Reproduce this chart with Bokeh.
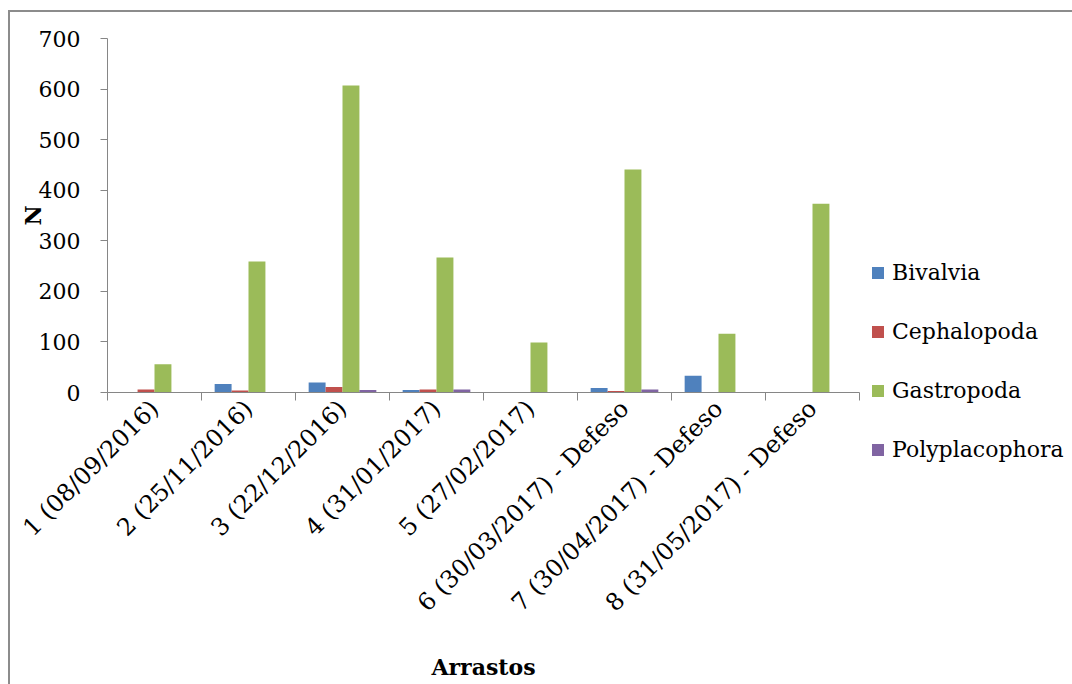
from math import pi

from bokeh.embed import file_html
from bokeh.layouts import row
from bokeh.models import ColumnDataSource, FixedTicker, Legend, LegendItem, Range1d
from bokeh.plotting import figure
from bokeh.resources import INLINE
from bokeh.transform import dodge

# Trawl hauls (Arrastos) and number of individuals (N) per mollusc class
arrastos = [
    "1 (08/09/2016)",
    "2 (25/11/2016)",
    "3 (22/12/2016)",
    "4 (31/01/2017)",
    "5 (27/02/2017)",
    "6 (30/03/2017) - Defeso",
    "7 (30/04/2017) - Defeso",
    "8 (31/05/2017) - Defeso",
]
bivalvia = [0, 17, 20, 5, 0, 9, 33, 1]
cephalopoda = [6, 4, 11, 6, 0, 3, 0, 0]
gastropoda = [56, 259, 607, 267, 99, 441, 116, 373]
polyplacophora = [0, 1, 5, 6, 0, 6, 0, 0]

series_names = ["Bivalvia", "Cephalopoda", "Gastropoda", "Polyplacophora"]
series_colors = ["#4F81BD", "#C0504D", "#9BBB59", "#8064A2"]
y_ticks = [0, 100, 200, 300, 400, 500, 600, 700]

FONT = "DejaVu Serif"
AXIS_GREY = "#868686"

centers = [i + 0.5 for i in range(len(arrastos))]
source = ColumnDataSource(dict(
    x=centers,
    Bivalvia=bivalvia,
    Cephalopoda=cephalopoda,
    Gastropoda=gastropoda,
    Polyplacophora=polyplacophora,
))

bar_w = 0.18
offsets = [-0.27, -0.09, 0.09, 0.27]

# ---- main bar chart -------------------------------------------------------
p = figure(
    width=852, height=672,
    x_range=Range1d(0, len(arrastos)), y_range=Range1d(0, 700),
    output_backend="svg", toolbar_location=None,
    min_border_left=97, min_border_right=3,
    min_border_top=26, min_border_bottom=292,
)
p.outline_line_color = None
p.xgrid.visible = False
p.ygrid.visible = False
p.background_fill_color = "white"
p.border_fill_color = "white"

for name, color, off in zip(series_names, series_colors, offsets):
    p.vbar(x=dodge("x", off, range=p.x_range), top=name, width=bar_w,
           source=source, fill_color=color, line_color=None)

# y axis
ya = p.yaxis[0]
ya.ticker = FixedTicker(ticks=y_ticks)
ya.axis_line_color = AXIS_GREY
ya.major_tick_line_color = AXIS_GREY
ya.major_tick_out = 7
ya.major_tick_in = 0
ya.minor_tick_line_color = None
ya.major_label_standoff = 20
ya.major_label_text_font = FONT
ya.major_label_text_font_size = "22px"
ya.major_label_text_color = "black"
ya.axis_label = "N"
ya.axis_label_text_font = FONT
ya.axis_label_text_font_style = "bold"
ya.axis_label_text_font_size = "22px"
ya.axis_label_text_color = "black"
ya.axis_label_standoff = -10

# x axis: labels centred on each haul, tick marks between hauls
xa = p.xaxis[0]
xa.ticker = FixedTicker(ticks=centers, minor_ticks=list(range(len(arrastos) + 1)))
xa.major_label_overrides = {c: lab for c, lab in zip(centers, arrastos)}
xa.major_label_orientation = pi / 4
xa.major_tick_line_color = None
xa.minor_tick_line_color = AXIS_GREY
xa.minor_tick_out = 8
xa.minor_tick_in = 0
xa.axis_line_color = AXIS_GREY
xa.major_label_standoff = 4
xa.major_label_text_font = FONT
xa.major_label_text_font_size = "24px"
xa.major_label_text_color = "black"
xa.axis_label = "Arrastos"
xa.axis_label_text_font = FONT
xa.axis_label_text_font_style = "bold"
xa.axis_label_text_font_size = "22px"
xa.axis_label_text_color = "black"
xa.axis_label_standoff = 24

# ---- legend panel ---------------------------------------------------------
# same series, viewed through ranges that keep the bars out of sight, so the
# legend swatches pick up each series' fill
pl = figure(
    width=210, height=672,
    x_range=Range1d(-3, -2), y_range=Range1d(0, 700),
    output_backend="svg", toolbar_location=None,
    x_axis_location=None, y_axis_location=None,
    min_border=0,
)
pl.frame_align = False
pl.outline_line_color = None
pl.xgrid.visible = False
pl.ygrid.visible = False
pl.border_fill_color = "white"

swatches = [pl.vbar(x="x", top=name, width=bar_w, source=source,
                    fill_color=color, line_color=None)
            for name, color in zip(series_names, series_colors)]
legend = Legend(
    items=[LegendItem(label=n, renderers=[r]) for n, r in zip(series_names, swatches)],
    location=(8, 222),
    orientation="vertical",
    glyph_width=15, glyph_height=15,
    label_height=22, label_standoff=7,
    spacing=34, padding=0, margin=0,
    border_line_color=None, background_fill_alpha=0,
    label_text_font=FONT, label_text_font_size="22px", label_text_color="black",
)
pl.add_layout(legend, "center")

# chart area with its grey frame
layout = row(p, pl, spacing=0)
layout.margin = (10, 0, 0, 8)
layout.styles = {"border-left": "2px solid #8c8c8c", "border-top": "2px solid #8c8c8c"}

open("out.html", "w").write(file_html(layout, INLINE))
